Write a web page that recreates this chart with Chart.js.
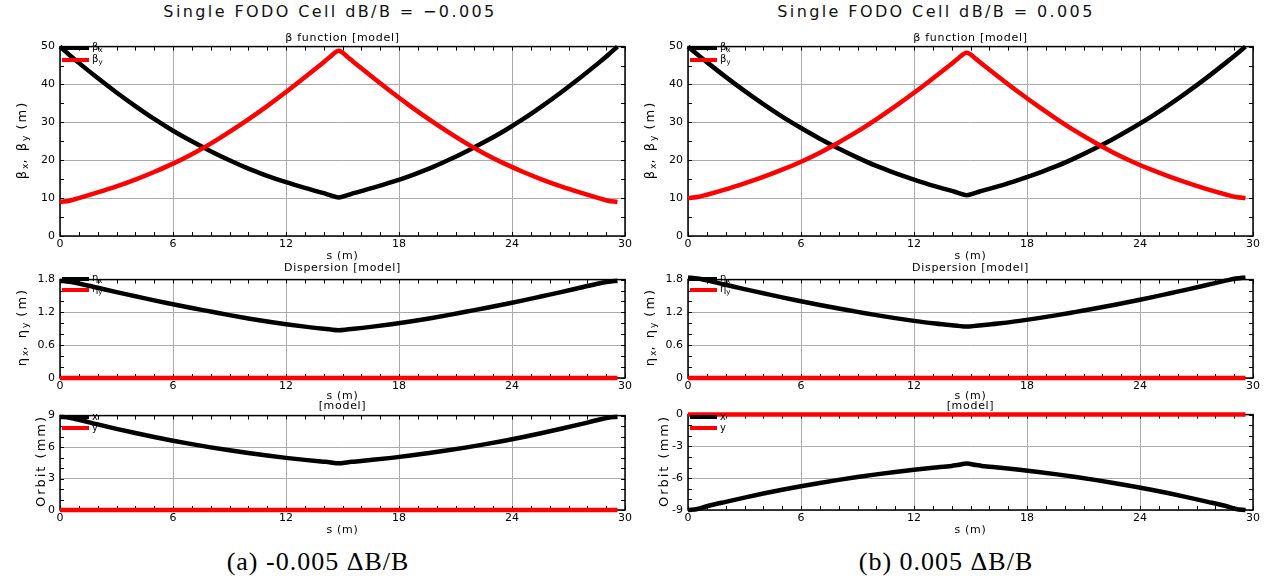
<!DOCTYPE html>
<html>
<head>
<meta charset="utf-8">
<script src="https://cdn.jsdelivr.net/npm/chart.js@4.4.1/dist/chart.umd.min.js"></script>
<style>
body { margin: 0; width: 1276px; height: 587px; background: #fff; position: relative; overflow: hidden; font-family: "DejaVu Sans", sans-serif; color: #000; }
canvas { position: absolute; }
.t { position: absolute; white-space: nowrap; transform: translate(-50%, -50%); font-size: 11px; line-height: 1; letter-spacing: 0.7px; color: #000; }
.ttl { font-size: 16px; letter-spacing: 2.4px; color: #111; }
.yl { transform: translate(-50%, -50%) rotate(-90deg); font-size: 13px; letter-spacing: 2px; }
.yl sub { font-size: 9px; letter-spacing: 0; }
.cap { font-family: "Liberation Serif", serif; font-size: 26px; letter-spacing: 1px; }
.lg { position: absolute; white-space: nowrap; font-size: 10px; line-height: 1; transform: translateY(-50%); }
.ll { position: absolute; width: 27px; height: 4px; }
sub { font-size: 7px; vertical-align: -2px; }
</style>
</head>
<body>
<script>
// s positions (m) along the cell
const S = [0, 0.5, 1, 2, 3, 4, 5, 6, 7, 8, 9, 10, 11, 12, 13, 14, 14.3, 14.8,
           15.3, 15.6, 16.6, 17.6, 18.6, 19.6, 20.6, 21.6, 22.6, 23.6, 24.6, 25.6, 26.6, 27.6, 28.6, 29.1, 29.6];
const zeroS = [0, 29.6];
const zeroV = [0, 0];

// (a) dB/B = -0.005
const betaXA = [50.0, 47.8, 45.7, 41.7, 37.9, 34.3, 30.9, 27.8, 25.0, 22.4, 20.0, 17.8, 15.9, 14.2, 12.7, 11.3, 10.85, 10.15,
                10.85, 11.3, 12.7, 14.2, 15.9, 17.8, 20.0, 22.4, 25.0, 27.8, 30.9, 34.3, 37.9, 41.7, 45.7, 47.8, 50.0];
const betaYA = [9.0, 9.3, 10.0, 11.5, 13.1, 14.9, 16.9, 19.1, 21.6, 24.4, 27.5, 30.8, 34.3, 38.0, 41.9, 45.9, 47.1, 48.9,
                47.1, 45.9, 41.9, 38.0, 34.3, 30.8, 27.5, 24.4, 21.6, 19.1, 16.9, 14.9, 13.1, 11.5, 10.0, 9.3, 9.0];
const etaXA = [1.78, 1.76, 1.73, 1.65, 1.57, 1.495, 1.42, 1.35, 1.28, 1.215, 1.15, 1.09, 1.035, 0.985, 0.94, 0.90, 0.89, 0.875,
               0.89, 0.90, 0.94, 0.985, 1.035, 1.09, 1.15, 1.215, 1.28, 1.35, 1.42, 1.495, 1.57, 1.65, 1.73, 1.76, 1.78];
const orbXA = [8.9, 8.8, 8.6, 8.16, 7.74, 7.34, 6.96, 6.61, 6.28, 5.97, 5.69, 5.43, 5.19, 4.97, 4.78, 4.61, 4.56, 4.45,
               4.56, 4.61, 4.78, 4.97, 5.19, 5.43, 5.69, 5.97, 6.28, 6.61, 6.96, 7.34, 7.74, 8.16, 8.6, 8.8, 8.9];

// (b) dB/B = 0.005
const betaXB = [50.0, 47.9, 45.9, 42.0, 38.3, 34.8, 31.5, 28.5, 25.7, 23.1, 20.7, 18.5, 16.6, 14.9, 13.3, 11.9, 11.45, 10.75,
                11.45, 11.9, 13.3, 14.9, 16.6, 18.5, 20.7, 23.1, 25.7, 28.5, 31.5, 34.8, 38.3, 42.0, 45.9, 47.9, 50.0];
const betaYB = [10.0, 10.3, 10.9, 12.3, 13.9, 15.6, 17.5, 19.6, 22.0, 24.7, 27.6, 30.8, 34.2, 37.8, 41.6, 45.5, 46.7, 48.4,
                46.7, 45.5, 41.6, 37.8, 34.2, 30.8, 27.6, 24.7, 22.0, 19.6, 17.5, 15.6, 13.9, 12.3, 10.9, 10.3, 10.0];
const etaXB = [1.84, 1.82, 1.785, 1.705, 1.625, 1.55, 1.475, 1.405, 1.335, 1.27, 1.21, 1.15, 1.095, 1.045, 1.00, 0.965, 0.955, 0.94,
               0.955, 0.965, 1.00, 1.045, 1.095, 1.15, 1.21, 1.27, 1.335, 1.405, 1.475, 1.55, 1.625, 1.705, 1.785, 1.82, 1.84];
const orbXB = [-9.0, -8.9, -8.65, -8.23, -7.83, -7.45, -7.09, -6.76, -6.45, -6.16, -5.89, -5.64, -5.41, -5.20, -5.01, -4.84, -4.76, -4.62,
               -4.76, -4.84, -5.01, -5.20, -5.41, -5.64, -5.89, -6.16, -6.45, -6.76, -7.09, -7.45, -7.83, -8.23, -8.65, -8.9, -9.0];

const panels = [
    { l: 60, r: 625, title: 'Single FODO Cell dB/B = \u22120.005', titleX: 330, caption: '(a) -0.005 \u0394B/B', capX: 318,
      yLabX: 22, orbLabX: 40, bx: betaXA, by: betaYA, ex: etaXA, ox: orbXA, orbMin: 0, orbMax: 9, orbTop: 412 },
    { l: 688, r: 1253, title: 'Single FODO Cell dB/B = 0.005', titleX: 936, caption: '(b) 0.005 \u0394B/B', capX: 946,
      yLabX: 650, orbLabX: 663, bx: betaXB, by: betaYB, ex: etaXB, ox: orbXB, orbMin: -9, orbMax: 0, orbTop: 411 },
];

const BLACK = '#000000';
const RED = '#ff0000';

const framePlugin = {
    id: 'frame',
    beforeDatasetsDraw(chart, args, opts) {
        const {ctx, chartArea: a, scales: {x, y}} = chart;
        ctx.save();
        ctx.strokeStyle = '#000';
        ctx.lineWidth = 1;
        ctx.beginPath();
        for (let v = x.min; v <= x.max + 1e-6; v += 1) {
            const px = Math.round(x.getPixelForValue(v)) + 0.5;
            ctx.moveTo(px, a.top); ctx.lineTo(px, a.top + 4);
            ctx.moveTo(px, a.bottom); ctx.lineTo(px, a.bottom - 4);
        }
        for (let v = y.min; v <= y.max + 1e-6; v += opts.minor) {
            const py = Math.round(y.getPixelForValue(v)) + 0.5;
            ctx.moveTo(a.left, py); ctx.lineTo(a.left + 4, py);
            ctx.moveTo(a.right, py); ctx.lineTo(a.right - 4, py);
        }
        ctx.stroke();
        ctx.lineWidth = 1.5;
        ctx.strokeRect(a.left, a.top, a.right - a.left, a.bottom - a.top);
        ctx.restore();
    }
};

function series(xs, ys, color) {
    return {
        data: xs.map((s, i) => ({x: s, y: ys[i]})),
        borderColor: color,
        borderWidth: 4.5,
        pointRadius: 0,
        fill: false,
        cubicInterpolationMode: 'monotone',
        clip: false,
    };
}

function makePlot(l, r, t, b, yMin, yMax, yStep, yMinor, datasets) {
    const W = 50, H = 20, PT = 8, PR = 14;
    const w = r - l + W + PR, h = b - t + PT + H;
    const cv = document.createElement('canvas');
    cv.width = w; cv.height = h;
    cv.style.left = (l - W) + 'px';
    cv.style.top = (t - PT) + 'px';
    document.body.appendChild(cv);
    const tickFont = {family: '"DejaVu Sans", sans-serif', size: 11};
    new Chart(cv, {
        type: 'line',
        data: {datasets},
        plugins: [framePlugin],
        options: {
            responsive: false,
            animation: false,
            layout: {padding: {top: PT, right: PR, left: 0, bottom: 0}},
            plugins: {legend: {display: false}, tooltip: {enabled: false}, frame: {minor: yMinor}},
            scales: {
                x: {
                    type: 'linear', min: 0, max: 30,
                    ticks: {stepSize: 6, color: '#000', font: tickFont, padding: 2, maxRotation: 0},
                    grid: {color: '#aaaaaa', lineWidth: 1, drawTicks: false},
                    border: {display: false},
                    afterFit: sc => { sc.height = H; },
                },
                y: {
                    min: yMin, max: yMax,
                    ticks: {stepSize: yStep, color: '#000', font: tickFont, padding: 5},
                    grid: {color: '#aaaaaa', lineWidth: 1, drawTicks: false},
                    border: {display: false},
                    afterFit: sc => { sc.width = W; },
                }
            }
        }
    });
}

function text(html, x, y, cls) {
    const d = document.createElement('div');
    d.className = 't' + (cls ? ' ' + cls : '');
    d.innerHTML = html;
    d.style.left = x + 'px';
    d.style.top = y + 'px';
    document.body.appendChild(d);
}

function legend(x, y, color, html) {
    const ln = document.createElement('div');
    ln.className = 'll';
    ln.style.left = x + 'px';
    ln.style.top = (y - 2) + 'px';
    ln.style.background = color;
    document.body.appendChild(ln);
    const lb = document.createElement('div');
    lb.className = 'lg';
    lb.innerHTML = html;
    lb.style.left = (x + 30) + 'px';
    lb.style.top = y + 'px';
    document.body.appendChild(lb);
}

panels.forEach(p => {
    const cx = (p.l + p.r) / 2;

    makePlot(p.l, p.r, 43, 236, 0, 50, 10, 5, [series(S, p.by, RED), series(S, p.bx, BLACK)]);
    makePlot(p.l, p.r, 276, 378, 0, 1.8, 0.6, 0.2, [series(S, p.ex, BLACK), series(zeroS, zeroV, RED)]);
    makePlot(p.l, p.r, p.orbTop, 510, p.orbMin, p.orbMax, 3, 1, [series(S, p.ox, BLACK), series(zeroS, zeroV, RED)]);

    text(p.title, p.titleX, 12, 'ttl');
    text('\u03b2 function [model]', cx, 37);
    text('s (m)', cx, 255);
    text('Dispersion [model]', cx, 267);
    text('s (m)', cx, 395);
    text('[model]', cx, 405);
    text('s (m)', cx, 529);
    text('\u03b2<sub>x</sub>, \u03b2<sub>y</sub> (m)', p.yLabX, 140, 'yl');
    text('\u03b7<sub>x</sub>, \u03b7<sub>y</sub> (m)', p.yLabX, 327, 'yl');
    text('Orbit (mm)', p.orbLabX, 461, 'yl');
    text(p.caption, p.capX, 562, 'cap');

    legend(p.l + 2, 48, BLACK, '\u03b2<sub>x</sub>');
    legend(p.l + 2, 60, RED, '\u03b2<sub>y</sub>');
    legend(p.l + 2, 279, BLACK, '\u03b7<sub>x</sub>');
    legend(p.l + 2, 290, RED, '\u03b7<sub>y</sub>');
    legend(p.l + 2, 417, BLACK, 'x');
    legend(p.l + 2, 428, RED, 'y');
});
</script>
</body>
</html>
